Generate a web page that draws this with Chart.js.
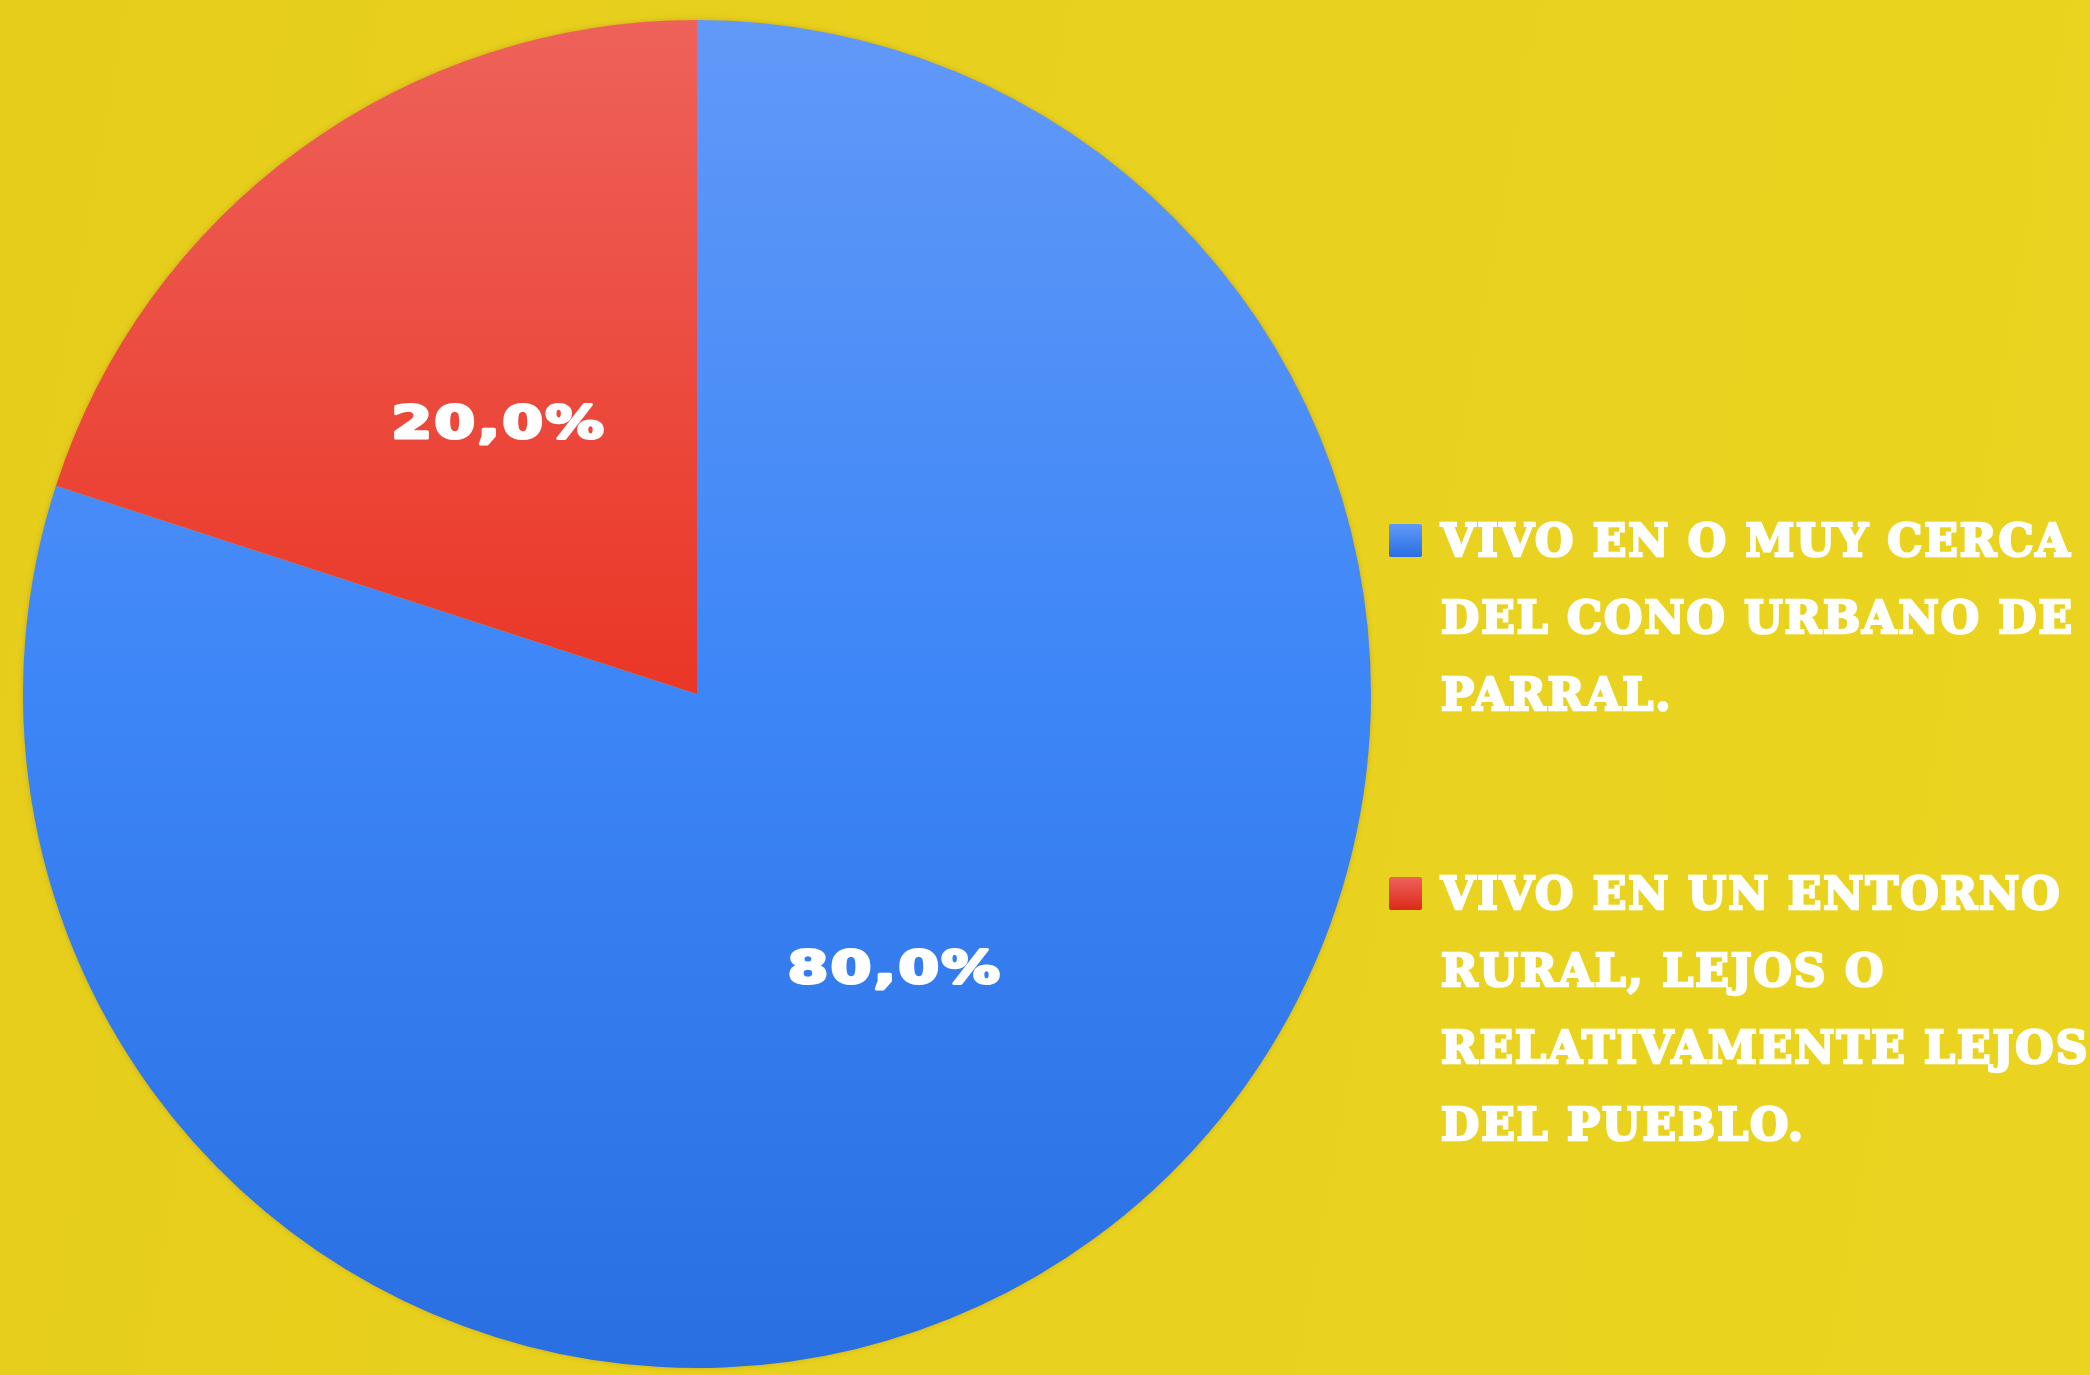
<!DOCTYPE html>
<html lang="es">
<head>
<meta charset="utf-8">
<title>Dónde vivo</title>
<script src="https://cdn.jsdelivr.net/npm/chart.js@4.4.0/dist/chart.umd.min.js"></script>
<style>
    html, body {
        margin: 0;
        padding: 0;
        background: #e8d11e;
    }
    #wrap {
        position: relative;
        width: 2090px;
        height: 1375px;
        overflow: hidden;
        background: linear-gradient(100deg, #e6cd1b 0%, #e9d21f 55%, #ead420 100%);
    }
    #legend {
        position: absolute;
        left: 1389px;
        top: 502px;
        font-family: 'DejaVu Serif', serif;
        font-weight: bold;
        font-size: 44px;
        line-height: 77px;
        letter-spacing: 2px;
        text-transform: uppercase;
        color: #ffffff;
        -webkit-text-stroke: 2.5px #ffffff;
        white-space: nowrap;
    }
    .legend-item {
        display: flex;
        align-items: flex-start;
        margin-bottom: 122px;
    }
    .legend-box {
        width: 33px;
        height: 33px;
        margin-top: 22px;
        margin-right: 19px;
        flex: none;
        border-radius: 2px;
    }
</style>
</head>
<body>
<div id="wrap">
    <canvas id="pieChart" width="2090" height="1375"></canvas>
    <div id="legend"></div>
</div>
<script>
// datos de la encuesta
const categories = [
    'Vivo en o muy cerca del cono urbano de Parral.',
    'Vivo en un entorno rural, lejos o relativamente lejos del pueblo.'
];
const legendLines = [
    ['Vivo en o muy cerca', 'del cono urbano de', 'Parral.'],
    ['Vivo en un entorno', 'rural, lejos o', 'relativamente lejos', 'del pueblo.']
];
const shares = [80, 20];
const colorsTop = ['#6199f8', '#ee625a'];
const colorsMid = ['#3d86f7', '#ea3626'];
const colorsBottom = ['#296fe2', '#dc2a1a'];

function sliceGradient(context) {
    const chart = context.chart;
    const area = chart.chartArea;
    const i = context.dataIndex;
    if (!area) return colorsMid[i];
    const g = chart.ctx.createLinearGradient(0, area.top, 0, area.bottom);
    g.addColorStop(0, colorsTop[i]);
    g.addColorStop(0.5, colorsMid[i]);
    g.addColorStop(1, colorsBottom[i]);
    return g;
}

function fmtPct(v) {
    return v.toFixed(1).replace('.', ',') + '%';
}

// sombra suave detras del circulo
const pieShadow = {
    id: 'pieShadow',
    beforeDatasetsDraw(chart) {
        const arc = chart.getDatasetMeta(0).data[0];
        if (!arc) return;
        const ctx = chart.ctx;
        ctx.save();
        ctx.shadowColor = 'rgba(110, 70, 0, 0.35)';
        ctx.shadowBlur = 6;
        ctx.fillStyle = '#d9b81a';
        ctx.beginPath();
        ctx.arc(arc.x, arc.y, arc.outerRadius - 1, 0, Math.PI * 2);
        ctx.fill();
        ctx.restore();
    }
};

// etiquetas de porcentaje dentro de cada porcion
const sliceLabels = {
    id: 'sliceLabels',
    afterDatasetsDraw(chart) {
        const ctx = chart.ctx;
        const meta = chart.getDatasetMeta(0);
        const values = chart.data.datasets[0].data;
        const total = values.reduce((a, b) => a + b, 0);
        ctx.save();
        ctx.font = 'bold 44px "DejaVu Sans"';
        ctx.fillStyle = '#ffffff';
        ctx.strokeStyle = '#ffffff';
        ctx.lineWidth = 3;
        ctx.lineJoin = 'round';
        ctx.textAlign = 'center';
        ctx.textBaseline = 'middle';
        ctx.letterSpacing = '2px';
        meta.data.forEach((arc, i) => {
            const pos = arc.tooltipPosition();
            const txt = fmtPct(values[i] / total * 100);
            ctx.save();
            ctx.translate(pos.x, pos.y + 5);
            ctx.scale(1.32, 1);
            ctx.strokeText(txt, 0, 0);
            ctx.fillText(txt, 0, 0);
            ctx.restore();
        });
        ctx.restore();
    }
};

const chart = new Chart(document.getElementById('pieChart').getContext('2d'), {
    type: 'pie',
    data: {
        labels: categories,
        datasets: [{
            data: shares,
            backgroundColor: sliceGradient,
            borderWidth: 0
        }]
    },
    options: {
        responsive: false,
        animation: false,
        layout: {
            padding: { left: 19, right: 715, top: 20, bottom: 7 }
        },
        plugins: {
            legend: { display: false },
            tooltip: { enabled: false }
        }
    },
    plugins: [pieShadow, sliceLabels]
});

// leyenda en HTML, a partir de los datos del grafico
const legendEl = document.getElementById('legend');
legendEl.innerHTML = chart.data.labels.map((label, i) => `
    <div class="legend-item" title="${label}">
        <span class="legend-box" style="background: linear-gradient(${colorsTop[i]}, ${colorsBottom[i]});"></span>
        <span class="legend-text">${legendLines[i].join('<br>')}</span>
    </div>
`).join('');
</script>
</body>
</html>
